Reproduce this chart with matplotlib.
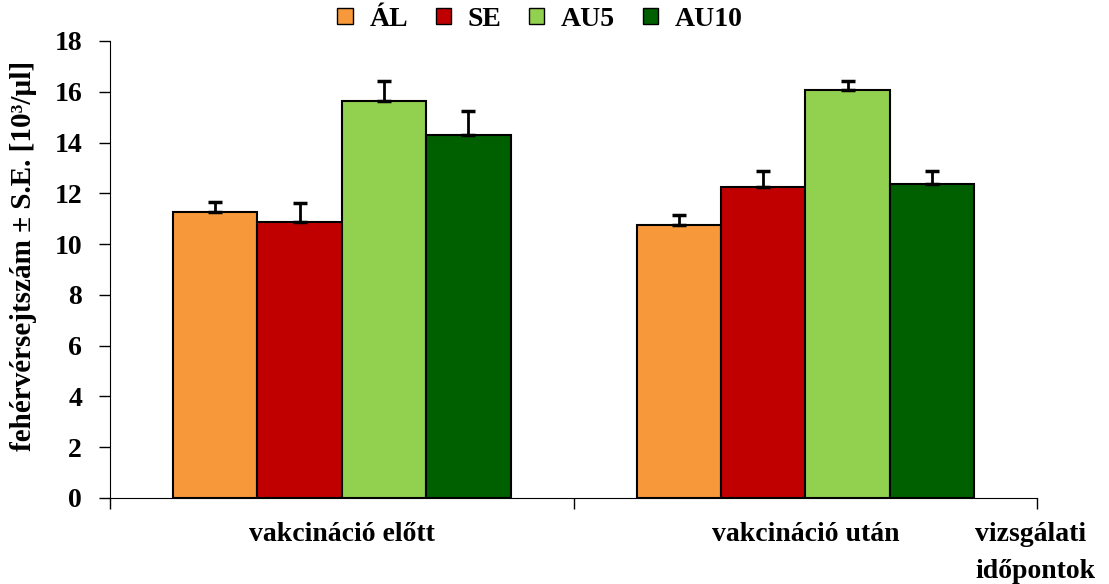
import numpy as np
import matplotlib
matplotlib.use("Agg")
import matplotlib.pyplot as plt
from matplotlib.patches import Patch

# data
groups = ["vakcináció előtt", "vakcináció után"]
series = ["ÁL", "SE", "AU5", "AU10"]
colors = ["#F7993B", "#C00000", "#92D050", "#006000"]
means = {
    "ÁL": [11.27, 10.74],
    "SE": [10.88, 12.24],
    "AU5": [15.62, 16.07],
    "AU10": [14.28, 12.37],
}
errs = {
    "ÁL": [0.40, 0.39],
    "SE": [0.75, 0.64],
    "AU5": [0.80, 0.35],
    "AU10": [0.95, 0.51],
}
yticks = [0, 2, 4, 6, 8, 10, 12, 14, 16, 18]

plt.rcParams["font.family"] = ["Liberation Serif", "DejaVu Serif"]
plt.rcParams["font.weight"] = "bold"

fig = plt.figure(figsize=(11.09, 5.84), dpi=100)
ax = fig.add_axes([0.0992, 0.1473, 0.836, 0.7825])

x = np.arange(len(groups))
w = 0.182
for i, s in enumerate(series):
    pos = x + (i - 1.5) * w
    ax.bar(pos, means[s], w, color=colors[i], edgecolor="black", linewidth=1.5,
           yerr=[np.zeros(len(groups)), errs[s]], capsize=5,
           error_kw=dict(elinewidth=2, capthick=2.5, ecolor="black"), zorder=2)

ax.set_xlim(-0.5, 1.5)
ax.set_ylim(0, 18)
ax.set_yticks(yticks)
ax.set_yticklabels([str(t) for t in yticks], fontsize=20, fontweight="bold")
ax.set_xticks([-0.5, 0.5, 1.5])
ax.set_xticklabels([])
ax.tick_params(axis="x", direction="out", length=8, width=1)
ax.tick_params(axis="y", direction="out", length=8, width=1, pad=12)
for i, g in enumerate(groups):
    ax.text(i, -1.42, g, ha="center", va="center", fontsize=20, fontweight="bold")
ax.text(1.366, -1.42, "vizsgálati", ha="left", va="center", fontsize=20,
        fontweight="bold", clip_on=False)
ax.text(1.366, -2.88, "időpontok", ha="left", va="center", fontsize=20,
        fontweight="bold", clip_on=False)

ax.spines["top"].set_visible(False)
ax.spines["right"].set_visible(False)
ax.set_ylabel("fehérvérsejtszám ± S.E. [10³/µl]", fontsize=21, fontweight="bold")
ax.yaxis.set_label_coords(-0.079, 0.53)

handles = [Patch(facecolor=c, edgecolor="black", linewidth=1) for c in colors]
fig.legend(handles, series, loc="center", bbox_to_anchor=(0.487, 0.967), ncol=4,
           frameon=False, prop=dict(size=20, weight="bold"), handlelength=0.55,
           handleheight=0.55, handletextpad=0.6, columnspacing=1.0)

fig.savefig("out.png", dpi=100)
